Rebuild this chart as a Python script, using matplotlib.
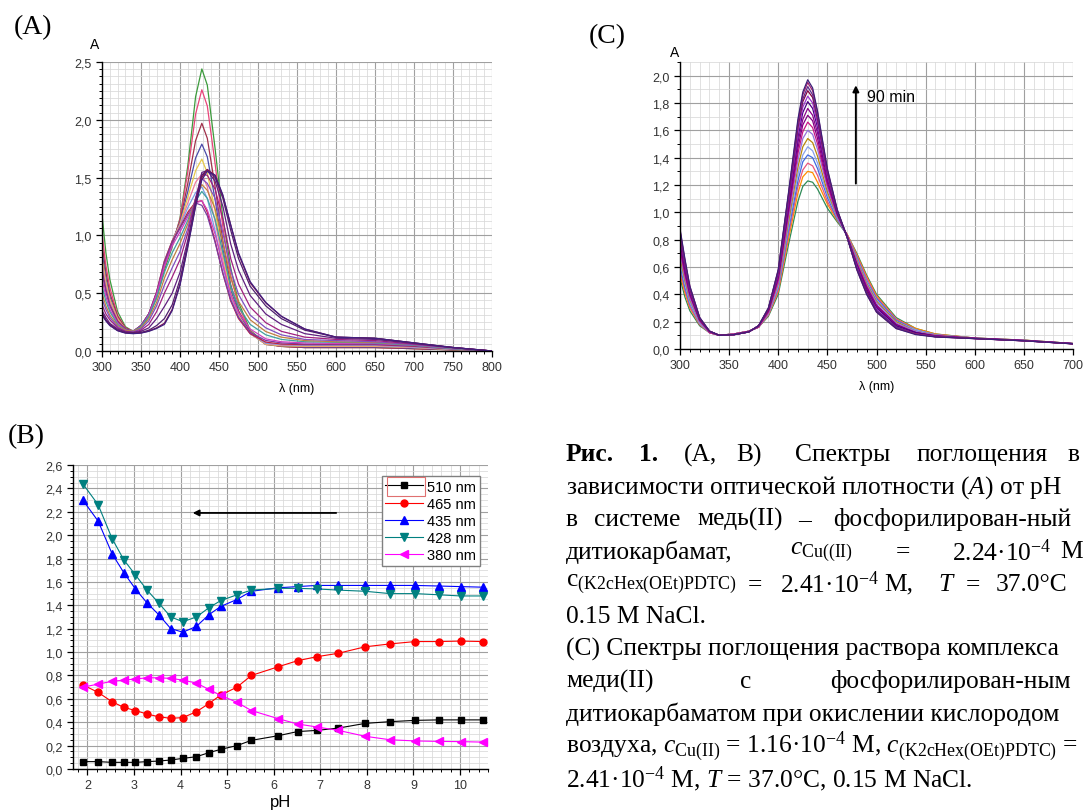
import matplotlib
matplotlib.use('Agg')
import matplotlib.pyplot as plt
from matplotlib.ticker import MultipleLocator, FuncFormatter
from matplotlib.patches import Rectangle

plt.rcParams['font.family'] = ['Liberation Sans', 'DejaVu Sans']
plt.rcParams['mathtext.fontset'] = 'custom'
plt.rcParams['mathtext.rm'] = 'Liberation Serif'
plt.rcParams['mathtext.it'] = 'Liberation Serif:italic'
plt.rcParams['mathtext.bf'] = 'Liberation Serif:bold'

# ---------------- Panel A: spectra at different pH ----------------
WL_A = [300, 305, 310, 320, 330, 340, 350, 360, 370, 380, 390, 400, 410, 420, 428,
        435, 445, 455, 465, 475, 490, 510, 530, 560, 600, 650, 700, 750, 800]
A_PH190 = [1.18, 0.85, 0.62, 0.34, 0.21, 0.17, 0.20, 0.30, 0.46, 0.70, 0.90, 1.15, 1.60, 2.20, 2.44, 2.30, 1.75, 1.15, 0.72, 0.42, 0.18, 0.063, 0.04, 0.03, 0.03, 0.03, 0.02, 0.01, 0.0]
A_PH223 = [1.02, 0.74, 0.55, 0.31, 0.20, 0.17, 0.21, 0.31, 0.48, 0.726, 0.92, 1.14, 1.55, 2.05, 2.26, 2.12, 1.62, 1.07, 0.655, 0.39, 0.17, 0.063, 0.04, 0.03, 0.03, 0.03, 0.02, 0.01, 0.0]
A_PH253 = [0.92, 0.68, 0.50, 0.30, 0.20, 0.17, 0.22, 0.32, 0.49, 0.75, 0.94, 1.12, 1.45, 1.82, 1.97, 1.84, 1.42, 0.95, 0.575, 0.35, 0.16, 0.057, 0.04, 0.03, 0.03, 0.03, 0.02, 0.01, 0.0]
A_PH278 = [0.85, 0.63, 0.47, 0.28, 0.19, 0.17, 0.22, 0.32, 0.50, 0.76, 0.95, 1.11, 1.38, 1.67, 1.79, 1.68, 1.31, 0.88, 0.527, 0.33, 0.155, 0.057, 0.045, 0.035, 0.035, 0.035, 0.025, 0.012, 0.0]
A_PH303 = [0.80, 0.60, 0.45, 0.28, 0.19, 0.17, 0.22, 0.32, 0.50, 0.77, 0.95, 1.10, 1.33, 1.56, 1.66, 1.54, 1.21, 0.83, 0.50, 0.31, 0.15, 0.057, 0.045, 0.04, 0.04, 0.04, 0.03, 0.012, 0.0]
A_PH328 = [0.76, 0.57, 0.43, 0.27, 0.19, 0.17, 0.22, 0.32, 0.51, 0.78, 0.95, 1.09, 1.28, 1.46, 1.53, 1.42, 1.12, 0.78, 0.47, 0.30, 0.15, 0.063, 0.05, 0.045, 0.045, 0.045, 0.03, 0.015, 0.0]
A_PH353 = [0.72, 0.54, 0.41, 0.26, 0.19, 0.17, 0.22, 0.32, 0.51, 0.78, 0.95, 1.08, 1.24, 1.37, 1.42, 1.32, 1.04, 0.73, 0.447, 0.29, 0.15, 0.068, 0.055, 0.05, 0.05, 0.05, 0.035, 0.015, 0.0]
A_PH379 = [0.70, 0.53, 0.40, 0.26, 0.19, 0.17, 0.22, 0.32, 0.51, 0.775, 0.95, 1.07, 1.20, 1.29, 1.30, 1.20, 0.95, 0.67, 0.433, 0.28, 0.15, 0.077, 0.06, 0.055, 0.055, 0.055, 0.04, 0.018, 0.0]
A_PH405 = [0.68, 0.51, 0.39, 0.25, 0.19, 0.17, 0.22, 0.32, 0.50, 0.76, 0.94, 1.06, 1.18, 1.28, 1.26, 1.17, 0.94, 0.67, 0.44, 0.29, 0.16, 0.091, 0.07, 0.06, 0.06, 0.06, 0.045, 0.02, 0.0]
A_PH434 = [0.62, 0.47, 0.36, 0.24, 0.18, 0.17, 0.21, 0.31, 0.49, 0.735, 0.91, 1.03, 1.16, 1.28, 1.30, 1.22, 1.01, 0.74, 0.49, 0.33, 0.19, 0.105, 0.08, 0.07, 0.065, 0.065, 0.05, 0.02, 0.0]
A_PH461 = [0.56, 0.43, 0.34, 0.23, 0.18, 0.17, 0.21, 0.30, 0.46, 0.68, 0.85, 0.98, 1.13, 1.30, 1.38, 1.32, 1.14, 0.85, 0.56, 0.38, 0.23, 0.14, 0.10, 0.08, 0.075, 0.07, 0.05, 0.02, 0.0]
A_PH486 = [0.50, 0.39, 0.31, 0.22, 0.18, 0.17, 0.20, 0.28, 0.42, 0.63, 0.79, 0.93, 1.10, 1.32, 1.44, 1.39, 1.23, 0.94, 0.632, 0.43, 0.27, 0.168, 0.12, 0.09, 0.08, 0.075, 0.055, 0.025, 0.0]
A_PH521 = [0.45, 0.36, 0.29, 0.21, 0.17, 0.165, 0.19, 0.26, 0.39, 0.57, 0.72, 0.86, 1.06, 1.32, 1.49, 1.45, 1.32, 1.02, 0.70, 0.49, 0.31, 0.20, 0.14, 0.10, 0.09, 0.08, 0.055, 0.025, 0.0]
A_PH552 = [0.40, 0.32, 0.27, 0.20, 0.17, 0.16, 0.18, 0.23, 0.34, 0.50, 0.64, 0.79, 1.02, 1.32, 1.53, 1.52, 1.40, 1.14, 0.80, 0.58, 0.38, 0.245, 0.17, 0.12, 0.10, 0.09, 0.06, 0.03, 0.0]
A_PH651 = [0.35, 0.29, 0.24, 0.19, 0.165, 0.16, 0.17, 0.20, 0.28, 0.385, 0.50, 0.68, 0.96, 1.30, 1.545, 1.56, 1.47, 1.25, 0.926, 0.70, 0.48, 0.32, 0.23, 0.15, 0.11, 0.10, 0.065, 0.03, 0.0]
A_PH796 = [0.33, 0.27, 0.23, 0.18, 0.16, 0.155, 0.16, 0.18, 0.22, 0.28, 0.40, 0.62, 0.93, 1.28, 1.52, 1.57, 1.50, 1.32, 1.045, 0.80, 0.56, 0.39, 0.28, 0.18, 0.12, 0.11, 0.07, 0.03, 0.0]
A_PH904 = [0.32, 0.265, 0.225, 0.178, 0.157, 0.152, 0.157, 0.173, 0.20, 0.24, 0.36, 0.58, 0.91, 1.26, 1.50, 1.57, 1.52, 1.34, 1.09, 0.84, 0.59, 0.416, 0.30, 0.19, 0.12, 0.11, 0.07, 0.03, 0.0]
A_PH1049 = [0.31, 0.26, 0.22, 0.175, 0.155, 0.15, 0.155, 0.17, 0.195, 0.23, 0.35, 0.57, 0.90, 1.25, 1.48, 1.555, 1.52, 1.35, 1.09, 0.85, 0.60, 0.42, 0.30, 0.19, 0.12, 0.11, 0.07, 0.03, 0.0]
A_SPECTRA = [A_PH190, A_PH223, A_PH253, A_PH278, A_PH303, A_PH328, A_PH353, A_PH379,
             A_PH405, A_PH434, A_PH461, A_PH486, A_PH521, A_PH552, A_PH651, A_PH796,
             A_PH904, A_PH1049]
A_COLORS = ['#3c9b3c', '#e8457a', '#a0304a', '#4a4aa8', '#e6c84a', '#f07a9a', '#7aa0e6',
            '#c02040', '#7a3aa0', '#d040c0', '#40a0a0', '#c08040', '#8050c0', '#a02080',
            '#602080', '#502070', '#801050', '#402080']

# ---------------- Panel B: absorbance vs pH ----------------
PH = [1.90, 2.23, 2.53, 2.78, 3.03, 3.28, 3.53, 3.79, 4.05, 4.34, 4.61, 4.86,
      5.21, 5.52, 6.10, 6.51, 6.92, 7.39, 7.96, 8.50, 9.04, 9.54, 10.01, 10.49]
B_510 = [0.063, 0.063, 0.057, 0.057, 0.057, 0.063, 0.068, 0.077, 0.091, 0.105, 0.14, 0.168,
         0.20, 0.245, 0.285, 0.32, 0.33, 0.35, 0.39, 0.405, 0.416, 0.42, 0.42, 0.42]
B_465 = [0.72, 0.655, 0.575, 0.527, 0.50, 0.47, 0.447, 0.433, 0.44, 0.49, 0.56, 0.632,
         0.70, 0.80, 0.875, 0.926, 0.96, 0.99, 1.045, 1.07, 1.09, 1.09, 1.094, 1.09]
B_435 = [2.30, 2.12, 1.84, 1.68, 1.54, 1.42, 1.32, 1.20, 1.17, 1.22, 1.32, 1.39,
         1.45, 1.52, 1.55, 1.56, 1.57, 1.57, 1.57, 1.57, 1.57, 1.565, 1.56, 1.555]
B_428 = [2.44, 2.26, 1.97, 1.79, 1.66, 1.53, 1.42, 1.30, 1.26, 1.30, 1.38, 1.44,
         1.49, 1.53, 1.545, 1.545, 1.54, 1.53, 1.52, 1.50, 1.50, 1.49, 1.48, 1.48]
B_380 = [0.70, 0.726, 0.75, 0.76, 0.77, 0.78, 0.78, 0.775, 0.76, 0.735, 0.68, 0.63,
         0.57, 0.50, 0.43, 0.385, 0.36, 0.33, 0.28, 0.25, 0.24, 0.236, 0.234, 0.23]
B_LABELS = ['510 nm', '465 nm', '435 nm', '428 nm', '380 nm']

# ---------------- Panel C: spectra during oxidation (0 -> 90 min) ----------------
WL_C = [300, 305, 310, 320, 330, 340, 355, 370, 380, 390, 400, 410, 420, 425, 430,
        435, 440, 450, 460, 470, 480, 490, 500, 520, 540, 560, 600, 650, 700]
C_T00 = [.52, .38, .28, .17, .12, .10, .11, .13, .16, .24, .40, .75, 1.08, 1.19, 1.23, 1.22, 1.17, 1.03, .93, .84, .70, .54, .40, .23, .15, .11, .08, .065, .04]
C_T01 = [.55, .41, .30, .18, .12, .10, .11, .13, .16, .25, .42, .79, 1.14, 1.26, 1.30, 1.29, 1.22, 1.06, .94, .84, .69, .53, .39, .22, .15, .11, .08, .065, .04]
C_T02 = [.58, .43, .31, .18, .12, .10, .11, .13, .16, .25, .43, .82, 1.19, 1.31, 1.36, 1.34, 1.27, 1.08, .95, .84, .68, .52, .38, .22, .14, .106, .08, .064, .04]
C_T03 = [.61, .45, .33, .19, .12, .10, .11, .13, .16, .26, .45, .85, 1.23, 1.37, 1.42, 1.40, 1.32, 1.11, .95, .83, .67, .50, .37, .21, .14, .104, .08, .064, .04]
C_T04 = [.64, .48, .34, .19, .12, .10, .11, .13, .16, .26, .46, .88, 1.28, 1.42, 1.48, 1.45, 1.36, 1.13, .96, .83, .66, .49, .36, .20, .14, .103, .079, .063, .04]
C_T05 = [.67, .50, .36, .20, .12, .10, .11, .13, .16, .27, .48, .91, 1.33, 1.48, 1.54, 1.51, 1.41, 1.15, .97, .83, .65, .48, .35, .20, .13, .101, .079, .063, .04]
C_T06 = [.70, .52, .37, .20, .12, .10, .11, .13, .16, .27, .49, .94, 1.38, 1.54, 1.60, 1.57, 1.46, 1.18, .97, .83, .64, .47, .34, .19, .13, .099, .078, .063, .039]
C_T07 = [.73, .54, .39, .21, .12, .10, .11, .13, .16, .27, .50, .97, 1.43, 1.59, 1.66, 1.62, 1.50, 1.20, .98, .83, .63, .46, .32, .18, .12, .097, .078, .062, .039]
C_T08 = [.75, .56, .40, .21, .13, .10, .105, .125, .17, .28, .52, .99, 1.47, 1.64, 1.71, 1.67, 1.54, 1.22, .99, .83, .62, .45, .32, .18, .12, .096, .078, .062, .039]
C_T09 = [.78, .58, .41, .21, .13, .10, .105, .125, .17, .28, .53, 1.02, 1.51, 1.68, 1.76, 1.71, 1.58, 1.24, .99, .83, .61, .44, .31, .17, .12, .094, .077, .061, .039]
C_T10 = [.80, .60, .42, .22, .13, .10, .105, .125, .17, .29, .54, 1.04, 1.55, 1.73, 1.81, 1.76, 1.62, 1.26, 1.00, .82, .61, .43, .30, .17, .12, .093, .077, .061, .039]
C_T11 = [.82, .62, .43, .22, .13, .10, .105, .125, .17, .29, .55, 1.06, 1.58, 1.77, 1.85, 1.80, 1.65, 1.27, 1.01, .82, .60, .42, .29, .16, .11, .092, .077, .061, .039]
C_T12 = [.84, .63, .44, .22, .13, .10, .105, .125, .17, .29, .56, 1.08, 1.62, 1.81, 1.89, 1.84, 1.68, 1.29, 1.01, .82, .59, .42, .28, .16, .11, .09, .077, .06, .038]
C_T13 = [.86, .64, .45, .23, .13, .10, .105, .125, .17, .30, .57, 1.10, 1.64, 1.83, 1.92, 1.86, 1.70, 1.30, 1.01, .82, .59, .41, .28, .16, .11, .09, .076, .06, .038]
C_T14 = [.87, .65, .46, .23, .13, .10, .105, .125, .17, .30, .58, 1.11, 1.66, 1.86, 1.95, 1.89, 1.73, 1.31, 1.02, .82, .58, .40, .27, .15, .11, .089, .076, .06, .038]
C_T15 = [.88, .66, .46, .23, .13, .10, .105, .125, .17, .30, .58, 1.12, 1.68, 1.88, 1.97, 1.91, 1.74, 1.32, 1.02, .82, .58, .40, .27, .15, .105, .088, .076, .06, .038]
C_SPECTRA = [C_T00, C_T01, C_T02, C_T03, C_T04, C_T05, C_T06, C_T07,
             C_T08, C_T09, C_T10, C_T11, C_T12, C_T13, C_T14, C_T15]
C_COLORS = ['#2e8b57', '#ff8c00', '#e75480', '#4169e1', '#87a0eb', '#b8860b', '#9370db',
            '#c71585', '#800080', '#8b008b', '#4b0082', '#9932cc', '#800040', '#5b2c8c',
            '#a0206e', '#3c1e78']

W, H = 1084, 812
fig = plt.figure(figsize=(W / 100, H / 100), dpi=100)


def px_axes(left, top, right, bottom):
    return fig.add_axes([left / W, 1 - bottom / H, (right - left) / W, (bottom - top) / H])


comma = FuncFormatter(lambda v, p: f"{v:.1f}".replace('.', ','))
TICK_FS = 9


def style(ax, xmaj, xmin, ymaj, ymin):
    ax.xaxis.set_major_locator(MultipleLocator(xmaj))
    ax.xaxis.set_minor_locator(MultipleLocator(xmin))
    ax.yaxis.set_major_locator(MultipleLocator(ymaj))
    ax.yaxis.set_minor_locator(MultipleLocator(ymin))
    ax.yaxis.set_major_formatter(comma)
    ax.grid(which='major', color='#a0a0a0', lw=0.8)
    ax.grid(which='minor', color='#d9d9d9', lw=0.55)
    ax.set_axisbelow(True)
    for s in ('top', 'right'):
        ax.spines[s].set_visible(False)
    for s in ('left', 'bottom'):
        ax.spines[s].set_linewidth(1.0)
    ax.tick_params(which='major', direction='out', length=4, width=0.9, labelsize=TICK_FS, colors='black')
    ax.tick_params(which='minor', direction='out', length=2, width=0.7)
    for lab in ax.get_xticklabels() + ax.get_yticklabels():
        lab.set_color('#333333')


# ---- Panel A ----
axA = px_axes(102, 63, 492, 352)
for spec, col in zip(A_SPECTRA, A_COLORS):
    axA.plot(WL_A, spec, color=col, lw=0.9)
axA.set_xlim(300, 800)
axA.set_ylim(0, 2.5)
style(axA, 50, 10, 0.5, 0.0625)
axA.set_xlabel('λ (nm)', fontsize=9, labelpad=6)

# ---- Panel C ----
axC = px_axes(680, 63, 1073, 350)
for spec, col in zip(C_SPECTRA, C_COLORS):
    axC.plot(WL_C, spec, color=col, lw=0.9)
axC.set_xlim(300, 700)
axC.set_ylim(0, 2.1)
style(axC, 50, 10, 0.2, 0.1)
axC.set_xlabel('λ (nm)', fontsize=9, labelpad=6)
axC.annotate('', xy=(479, 1.95), xytext=(479, 1.19),
             arrowprops=dict(arrowstyle='-|>', color='black', lw=1.4, mutation_scale=9))
axC.text(490, 1.85, '90 min', fontsize=11.5, va='center', ha='left')

# ---- Panel B ----
axB = px_axes(73, 466, 488, 770)
markers = ['s', 'o', '^', 'v', '<']
colors = ['#000000', '#ff0000', '#0000ff', '#008080', '#ff00ff']
for ys, m, c, lab in zip([B_510, B_465, B_435, B_428, B_380], markers, colors, B_LABELS):
    ms = 5.0 if m in ('s', 'o') else 6.0
    axB.plot(PH, ys, marker=m, color=c, mfc=c, mec=c, ms=ms, lw=0.8, label=lab)
axB.set_xlim(1.69, 10.6)
axB.set_ylim(0, 2.6)
style(axB, 1, 0.2, 0.2, 0.05)
axB.set_xlabel('pH', fontsize=12, labelpad=2)
leg = axB.legend(loc='upper right', bbox_to_anchor=(0.981, 0.964), frameon=True, fancybox=False,
                 edgecolor='#808080', framealpha=1, fontsize=10.5, handlelength=2.6,
                 borderpad=0.25, labelspacing=0.22, handletextpad=0.3, borderaxespad=0)
leg.get_frame().set_linewidth(1.0)
axB.add_patch(Rectangle((0.757, 0.898), 0.09, 0.064, transform=axB.transAxes, fill=False,
                        edgecolor='#e07070', lw=0.8, zorder=10, clip_on=False))
axB.annotate('', xy=(4.2, 2.19), xytext=(7.4, 2.19),
             arrowprops=dict(arrowstyle='-|>', color='black', lw=1.3, mutation_scale=9))


def ftext(x, y, s, **kw):
    fig.text(x / W, 1 - y / H, s, **kw)


SERIF = ['Liberation Serif', 'DejaVu Serif']
ftext(33, 28, '(A)', family=SERIF, fontsize=20, ha='center', va='center')
ftext(607, 37, '(C)', family=SERIF, fontsize=20, ha='center', va='center')
ftext(26, 437, '(B)', family=SERIF, fontsize=20, ha='center', va='center')
ftext(95, 45, 'A', fontsize=10, ha='center', va='center')
ftext(675, 53, 'A', fontsize=10, ha='center', va='center')

# ---- Caption ----
CFS = 18.4
LX = 566
LS = 32.4
Y0 = 455


def cap_words(line, words):
    y = Y0 + line * LS
    for w in words:
        s, x = w[0], w[1]
        weight = w[2] if len(w) > 2 else 'normal'
        ftext(x, y, s, family=SERIF, fontsize=CFS, ha='left', va='center', weight=weight)


cap_words(0, [('Рис.', 566, 'bold'), ('1.', 639, 'bold'), ('(A,', 684), ('B)', 736),
              ('Спектры', 795), ('поглощения', 917), ('в', 1068)])
cap_words(1, [('зависимости оптической плотности ($A$) от pH', LX)])
cap_words(2, [('в', 566), ('системе', 594), ('медь(II)', 697), ('–', 798),
              ('фосфорилирован-ный', 833)])
cap_words(3, [('дитиокарбамат,', 566), (r'$c_{\mathrm{Cu((II)}}$', 790), ('=', 896),
              (r'2.24·$10^{-4}$', 952), ('M', 1060)])
cap_words(4, [(r'c$_{\mathrm{(K2cHex(OEt)PDTC)}}$', 566), ('=', 748), (r'2.41·$10^{-4}$', 780),
              ('M,', 884), (r'$T$', 938), ('=', 966), ('37.0°C', 996)])
cap_words(5, [('0.15 M NaCl.', LX)])
cap_words(6, [('(C) Спектры поглощения раствора комплекса', LX)])
cap_words(7, [('меди(II)', 566), ('с', 740), ('фосфорилирован-ным', 830)])
cap_words(8, [('дитиокарбаматом при окислении кислородом', LX)])
cap_words(9, [(r'воздуха, $c_{\mathrm{Cu(II)}}$ = 1.16·$10^{-4}$ M, $c_{\mathrm{(K2cHex(OEt)PDTC)}}$ =', LX)])
cap_words(10, [(r'2.41·$10^{-4}$ M, $T$ = 37.0°C, 0.15 M NaCl.', LX)])

fig.savefig('out.png', dpi=100)
